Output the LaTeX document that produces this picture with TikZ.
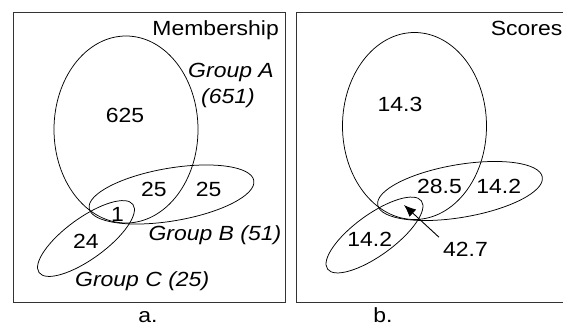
\documentclass[tikz,border=0pt]{standalone}
\usepackage{fontspec}
\setmainfont{Liberation Sans}[FakeStretch=1.12]
\usetikzlibrary{arrows.meta}

\begin{document}
\begin{tikzpicture}[x=1pt, y=-1pt,
  lbl/.style={font=\fontsize{20.5}{26}\selectfont, inner sep=0pt, anchor=base, text=black},
  grp/.style={lbl, font=\fontsize{20.5}{26}\selectfont\itshape},
  panel/.style={draw=black!80, line width=0.8pt},
  vset/.style={draw=black, line width=0.75pt},
  arr/.style={-{Latex[length=12pt,width=10pt]}, line width=0.9pt},
]
  \useasboundingbox (0,0) rectangle (563,327);
  % panel frames
  \draw[panel] (13,12.7) rectangle (285.5,302.3);
  \draw[panel] (296,12.7) rectangle (570,302.3);
  % the three groups, once per panel
  \foreach \dx/\dy in {0/0, 288.5/-3.5}{
    \begin{scope}[shift={(\dx,\dy)}]
      \draw[vset] (126,129.5) ellipse [x radius=72pt, y radius=93.5pt];
      \draw[vset] (171.5,194.5) ellipse [x radius=83.5pt, y radius=26.4pt, rotate=9.6];
      \draw[vset] (86,238.5) ellipse [x radius=58pt, y radius=20.5pt, rotate=36];
    \end{scope}}
  % a. membership
  \node[lbl, anchor=base east] (mem) at (279,35) {Membership};
  \node[grp] (ga) at (231,77) {Group A};
  \node[grp] (gan) at (228,103.3) {(651)};
  \node[lbl] (n625) at (125,122.7) {625};
  \node[lbl] (n25ab) at (154,196) {25};
  \node[lbl] (n25b) at (208.7,196) {25};
  \node[lbl] (n1) at (117.5,221.7) {1};
  \node[lbl] (n24) at (86,248.3) {24};
  \node[grp, anchor=base west] (gb) at (148.3,240.7) {Group B (51)};
  \node[grp, anchor=base west] (gc) at (75,286.7) {Group C (25)};
  \node[lbl] (la) at (148,322) {a.};
  % b. scores
  \node[lbl, anchor=base east] (sco) at (562.5,35) {Scores};
  \node[lbl] (s143) at (400,111.7) {14.3};
  \node[lbl] (s285) at (439.5,193.3) {28.5};
  \node[lbl] (s142b) at (498.7,193.3) {14.2};
  \node[lbl] (s142c) at (369.7,246) {14.2};
  \node[lbl] (s427) at (465.5,256.7) {42.7};
  \node[lbl] (lb) at (383,322) {b.};
  \coordinate (tip) at (404,205);
  \draw[arr] ([xshift=-4pt,yshift=5pt]s427.north west) -- (tip);
\end{tikzpicture}
\end{document}
